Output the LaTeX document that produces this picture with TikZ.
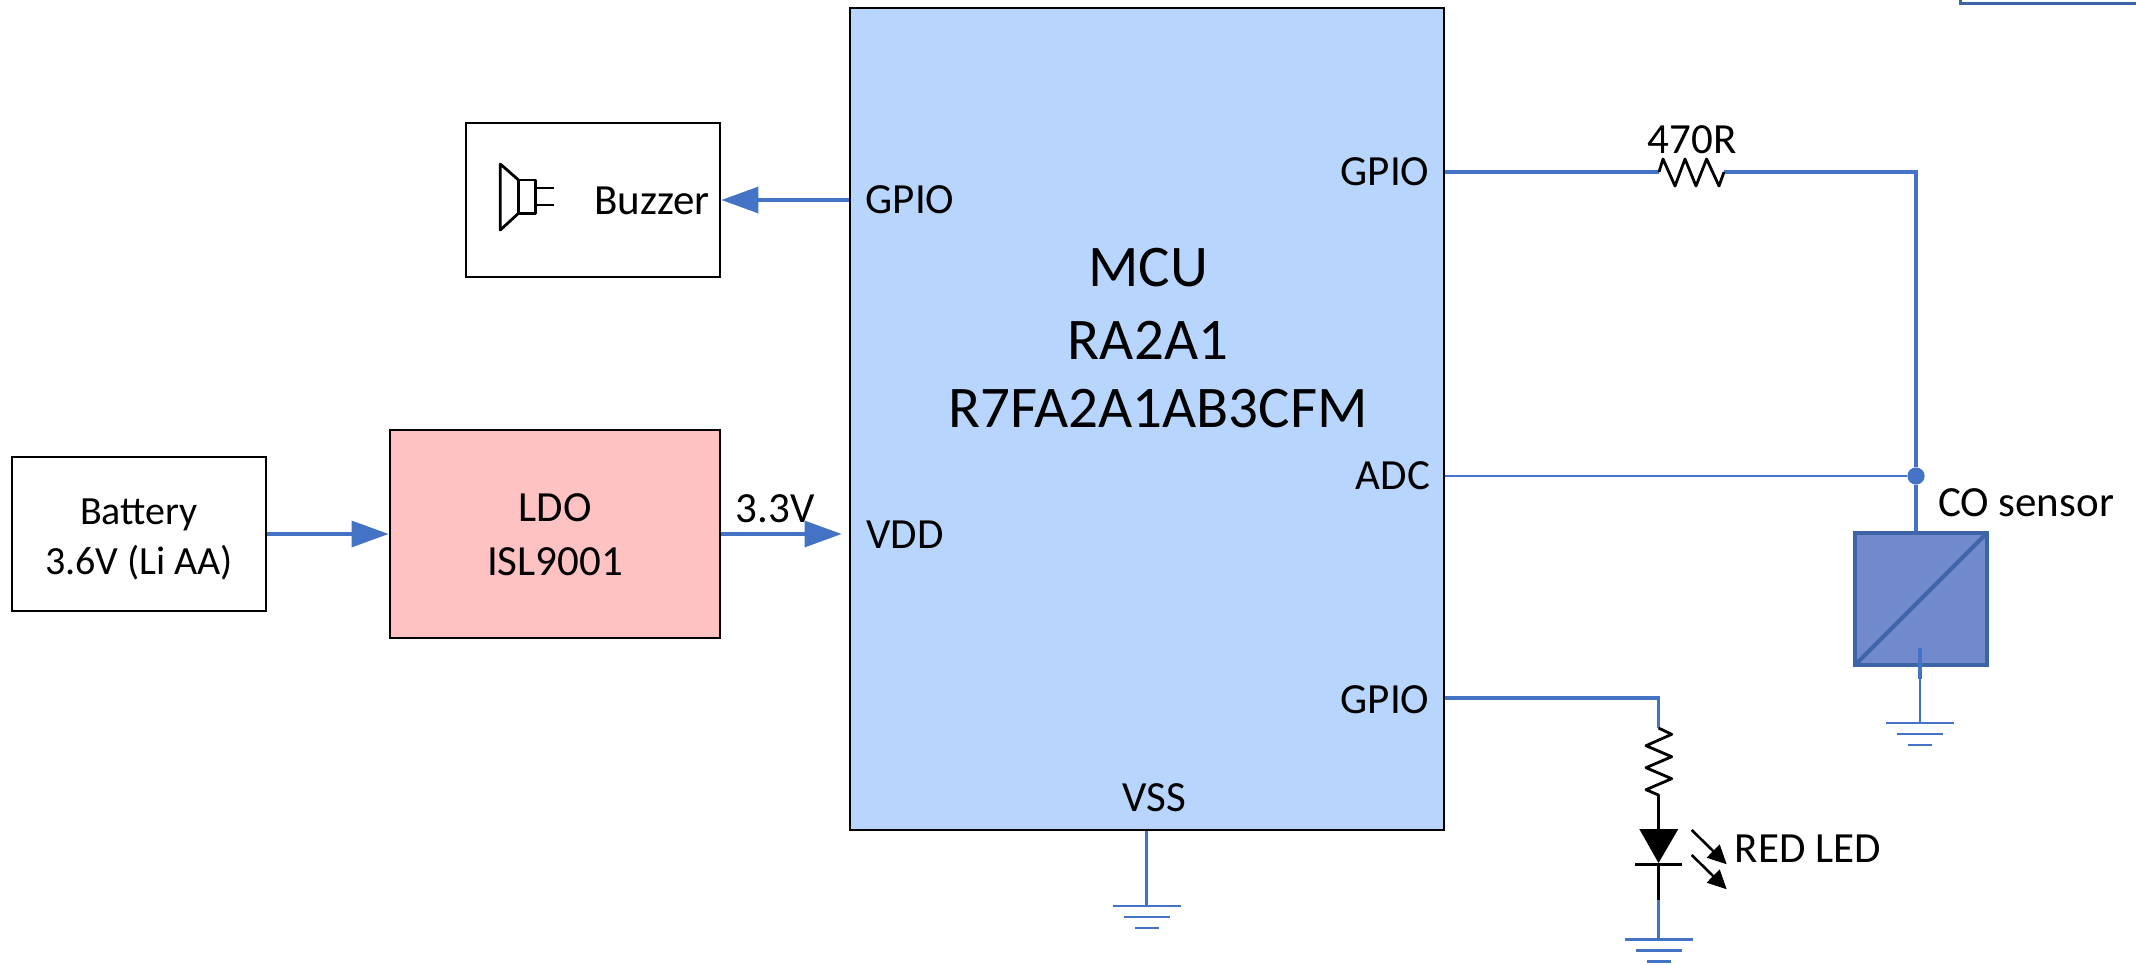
\documentclass[tikz,border=0pt]{standalone}
\usepackage{fontspec}
\setmainfont{Carlito}
\usepackage{xcolor}
\usetikzlibrary{arrows.meta}

\definecolor{wireblue}{HTML}{4472C4}
\definecolor{mcublue}{HTML}{B8D6FD}
\definecolor{ldored}{HTML}{FFC2C2}
\definecolor{sensorfill}{HTML}{718ACC}
\definecolor{sensoredge}{HTML}{3E64A8}

\tikzset{
    blockbox/.style={draw=black,line width=1.4pt,align=center,inner sep=0pt,font=\fontsize{21.5}{27}\selectfont},
    pinlabel/.style={inner sep=0pt,font=\fontsize{21.5}{26}\selectfont},
    mculabel/.style={inner sep=0pt,font=\fontsize{29.5}{35}\selectfont},
    wire/.style={draw=wireblue,line width=1.6pt},
    thinwire/.style={draw=wireblue,line width=1.4pt},
    feed/.style={wire,-{Triangle[length=18.5pt,width=13pt]}},
    part/.style={draw=black,line width=1.4pt,line join=round},
    gnd/.pic={
        \draw[thinwire] (-34,0) -- (34,0);
        \draw[thinwire] (-23,11) -- (23,11);
        \draw[thinwire] (-12,22) -- (12,22);
    }
}

\begin{document}
\begin{tikzpicture}[x=0.5pt,y=-0.5pt]
    \useasboundingbox (0,0) rectangle (2136,964);

    % blocks
    \node[blockbox,fill=mcublue,minimum width=297pt,minimum height=411pt] (mcu) at (1147,419) {};
    \node[blockbox,minimum width=127pt,minimum height=77pt] (buzzer) at (593,200) {};
    \node[blockbox,minimum width=127pt,minimum height=77pt] (battery) at (139,534) {};
    \node[blockbox,fill=ldored,minimum width=165pt,minimum height=104pt] (ldo) at (555,534) {};
    \node[draw=sensoredge,fill=sensorfill,line width=2pt,inner sep=0pt,minimum width=66pt,minimum height=66pt] (sensor) at (1921,599) {};
    \draw[sensoredge,line width=2pt,shorten >=1.2pt,shorten <=1.2pt] (sensor.south west) -- (sensor.north east);

    % block text
    \node[align=center,inner sep=0pt,font=\fontsize{20}{25}\selectfont] (batterytext) at (139,539) {Battery\\3.6V (Li AA)};
    \node[align=center,inner sep=0pt,font=\fontsize{21.5}{27}\selectfont] (ldotext) at (555,535) {LDO\\ISL9001};
    \node[mculabel] (mcuname) at (1148,268) {MCU};
    \node[mculabel] (mcuseries) at (1148,340) {RA2A1};
    \node[mculabel] (mcupart) at (1158,409) {R7FA2A1AB3CFM};
    \node[pinlabel] (gpioa) at (910,200) {GPIO};
    \node[pinlabel] (vdd) at (905,535) {VDD};
    \node[pinlabel] (gpiob) at (1385,172) {GPIO};
    \node[pinlabel] (adc) at (1393,476) {ADC};
    \node[pinlabel] (gpioc) at (1385,700) {GPIO};
    \node[pinlabel] (vss) at (1154,798) {VSS};

    % other labels
    \node[pinlabel] (buzzertext) at (652,201) {Buzzer};
    \node[pinlabel] (volt) at (775,509) {3.3V};
    \node[pinlabel] (rvalue) at (1692,140) {470R};
    \node[pinlabel] (sensortext) at (2026,503) {CO sensor};
    \node[pinlabel] (ledtext) at (1808,849) {RED LED};

    % speaker
    \draw[part] (518.5,180) rectangle (535.7,213.3);
    \draw[part] (518.5,180) -- (500.3,164) -- (500.3,230) -- (518.5,213.3);
    \draw[part] (535.7,188) -- (554,188) (535.7,205) -- (554,205);

    % arrows
    \draw[feed] (mcu.west |- buzzer.east) -- (buzzer.east);
    \draw[feed] (battery.east) -- (ldo.west);
    \draw[feed,shorten >=3.5pt] (ldo.east) -- (mcu.west |- ldo.east);

    % sensor branch
    \coordinate (rastart) at (1659,172);
    \coordinate (raend) at (1724,172);
    \coordinate (corner) at (1916,172);
    \node[circle,fill=wireblue,inner sep=0pt,minimum size=8.6pt] (junction) at (1916,476) {};
    \draw[wire] (mcu.east |- rastart) -- (rastart);
    \draw[wire] (raend) -- (corner) -- (junction);
    \draw[thinwire] (mcu.east |- junction) -- (junction);
    \draw[wire] (junction) -- (junction |- sensor.north);
    \draw[part] (rastart) -- (1663,159) -- (1675,186) -- (1685,159) -- (1696,186) -- (1706.6,159) -- (1719,186) -- (raend);
    \coordinate (sgnd) at (1920,723);
    \draw[wire] (1920,648) -- (1920,679);
    \draw[thinwire] (1920,679) -- (sgnd);
    \pic at (sgnd) {gnd};

    % led branch
    \coordinate (rbstart) at (1658.5,728);
    \coordinate (rbend) at (1658.5,795);
    \coordinate (ledtop) at (1658.5,829);
    \coordinate (ledbot) at (1658.5,900);
    \coordinate (lgnd) at (1658.5,939.3);
    \draw[wire] (mcu.east |- 0,698) -- (1658.5,698) -- (rbstart);
    \draw[part] (rbstart) -- (1671.7,734.3) -- (1646,745.7) -- (1671.7,756.7) -- (1646,767.7) -- (1671.7,778.7) -- (1646,789.7) -- (rbend) -- (ledtop);
    \fill[black] (1639.3,829) -- (1678.3,829) -- (1658.5,863) -- cycle;
    \draw[part] (1635.3,864.3) -- (1682,864.3);
    \draw[part] (1658.5,864.3) -- (ledbot);
    \draw[wire] (ledbot) -- (lgnd);
    \pic at (lgnd) {gnd};
    \foreach \yy in {830,855}
        \draw[black,line width=1.3pt,-{Triangle[length=9.5pt,width=9pt]}] (1691.7,\yy) -- ++(35,34.3);

    % vss
    \coordinate (mgnd) at (1146.7,906);
    \coordinate (mmid) at (1146.7,864);
    \draw[wire] (mmid -| mgnd) -- (mmid |- mcu.south);
    \draw[thinwire] (mmid) -- (mgnd);
    \pic at (mgnd) {gnd};

    % box running off the corner
    \draw[sensoredge,line width=1.5pt] (1960.5,0) -- (1960.5,3.5) -- (2136,3.5);
\end{tikzpicture}
\end{document}
